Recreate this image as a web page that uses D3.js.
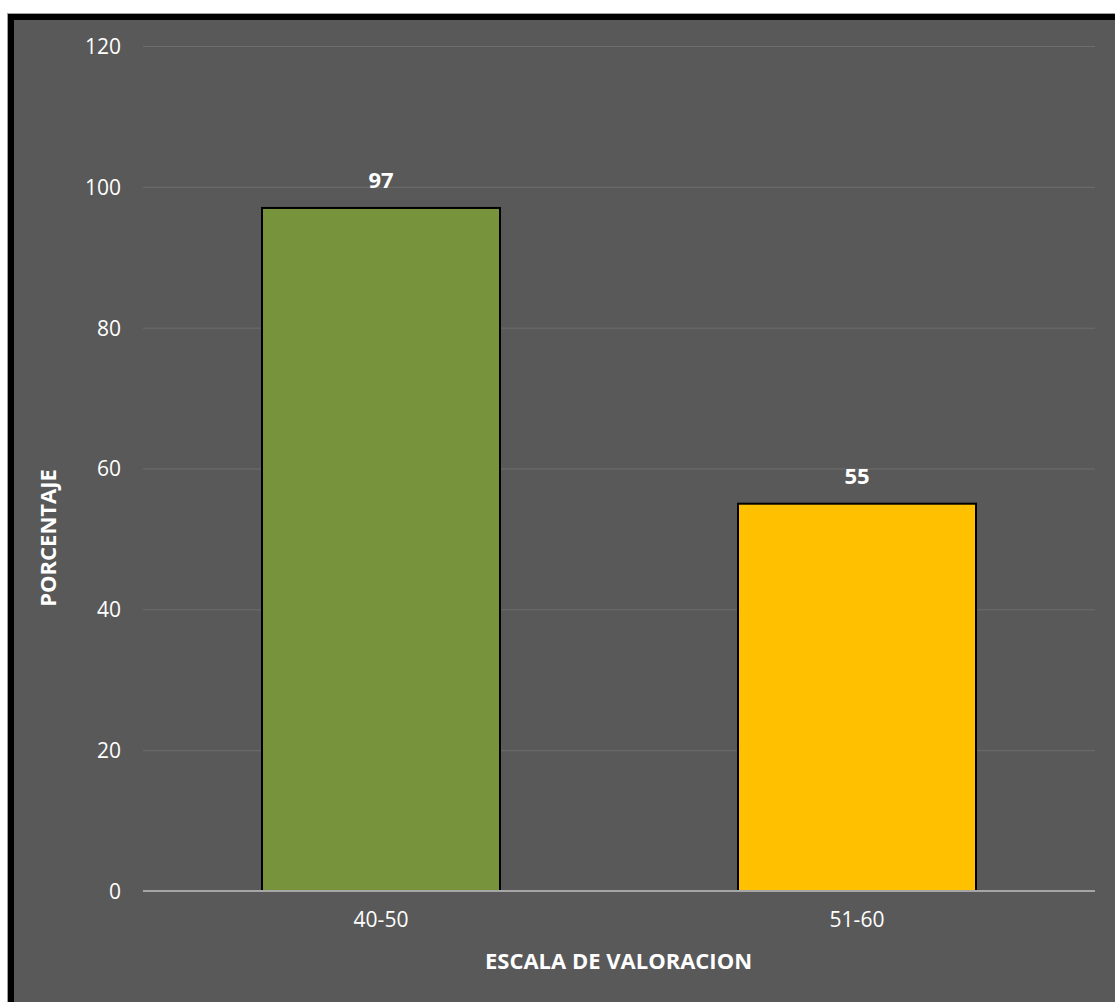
<!DOCTYPE html>
<html><head><meta charset="utf-8">
<script src="https://cdn.jsdelivr.net/npm/d3@7"></script>
<style>body{margin:0;background:#fff;} svg{display:block;}</style>
</head><body>
<svg id="c" width="1115" height="1002"></svg>
<script>
const categories = ["40-50", "51-60"];
const values = [97, 55];
const colors = ["#77933C", "#FFC000"];
const yTicks = [0, 20, 40, 60, 80, 100, 120];
const yTitle = "PORCENTAJE";
const xTitle = "ESCALA DE VALORACION";

const svg = d3.select("#c");
const font = "'Open Sans', sans-serif";
// background with top/left black border
svg.append("rect").attr("x",7).attr("y",13).attr("width",1108).attr("height",989).attr("fill","#a0a0a0");
svg.append("rect").attr("x",8).attr("y",14).attr("width",1107).attr("height",988).attr("fill","#000");
svg.append("rect").attr("x",14).attr("y",20).attr("width",1101).attr("height",982).attr("fill","#595959");

const m = {left:143, right:1095, top:46, bottom:891};
const x = d3.scaleBand().domain(categories).range([m.left, m.right]).paddingInner(0.5).paddingOuter(0.25);
const y = d3.scaleLinear().domain([0,120]).range([m.bottom, m.top]);

// gridlines
const yAxis = d3.axisLeft(y).tickValues(yTicks).tickSize(-(m.right-m.left)).tickPadding(22);
const gy = svg.append("g").attr("transform",`translate(${m.left},0)`).call(yAxis);
gy.select(".domain").remove();
gy.selectAll(".tick line").attr("stroke","#6e6e6e").attr("stroke-width",1);
gy.selectAll(".tick text").attr("fill","#fff").attr("font-family",font).attr("font-size",21).attr("dy","0.35em");

// bars
svg.selectAll("rect.bar").data(values).enter().append("rect").attr("class","bar")
  .attr("x",(d,i)=>x(categories[i]))
  .attr("y",d=>y(d))
  .attr("width",x.bandwidth())
  .attr("height",d=>y(0)-y(d))
  .attr("fill",(d,i)=>colors[i])
  .attr("stroke","#000").attr("stroke-width",2);

// zero axis line
svg.append("line").attr("x1",m.left).attr("x2",m.right).attr("y1",y(0)).attr("y2",y(0))
  .attr("stroke","#a6a6a6").attr("stroke-width",2);

// x axis labels
const xAxis = d3.axisBottom(x).tickSize(0).tickPadding(21);
const gx = svg.append("g").attr("transform",`translate(0,${m.bottom})`).call(xAxis);
gx.select(".domain").remove();
gx.selectAll(".tick text").attr("fill","#fff").attr("font-family",font).attr("font-size",21);

// data labels
svg.selectAll("text.lbl").data(values).enter().append("text").attr("class","lbl")
  .attr("x",(d,i)=>x(categories[i])+x.bandwidth()/2)
  .attr("y",d=>y(d)-20)
  .attr("text-anchor","middle").attr("fill","#fff")
  .attr("font-family",font).attr("font-weight","bold").attr("font-size",22)
  .text(d=>d);

// axis titles
svg.append("text").attr("x",(483+754)/2).attr("y",969).attr("text-anchor","middle")
  .attr("fill","#fff").attr("font-family",font).attr("font-weight","bold").attr("font-size",22).text(xTitle);
svg.append("text").attr("transform",`translate(56,538) rotate(-90)`).attr("text-anchor","middle")
  .attr("fill","#fff").attr("font-family",font).attr("font-weight","bold").attr("font-size",22).text(yTitle);
</script>
</body></html>
